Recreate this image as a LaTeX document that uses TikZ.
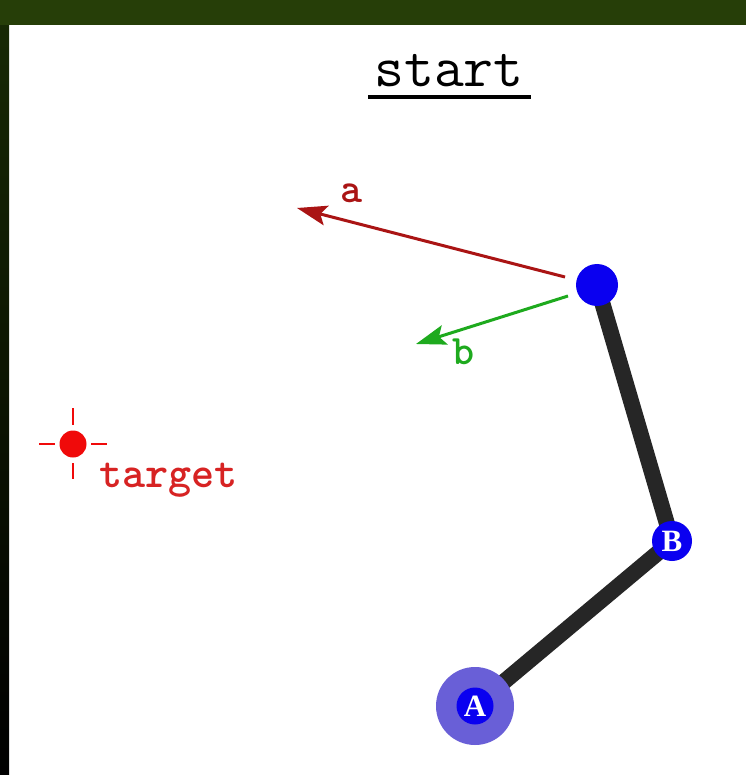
\documentclass[tikz,border=0pt]{standalone}
\usepackage{fontspec}
\newfontfamily\jointfont{Liberation Serif}
\usetikzlibrary{arrows.meta}
\definecolor{topgreen}{RGB}{38,62,8}
\definecolor{leftgreen}{RGB}{24,42,4}
\definecolor{jointblue}{RGB}{10,0,240}
\definecolor{halo}{RGB}{105,95,215}
\definecolor{linkgray}{RGB}{38,38,38}
\definecolor{avec}{RGB}{170,20,20}
\definecolor{bvec}{RGB}{30,170,30}
\definecolor{tgtred}{RGB}{240,10,10}
\definecolor{tgttext}{RGB}{215,35,35}
\tikzset{
  joint/.style={circle, fill=jointblue, inner sep=0pt, minimum size=40pt, text=white, font=\jointfont\bfseries\fontsize{31}{31}\selectfont},
  link/.style={line width=16pt, draw=linkgray},
  vec/.style={line width=3pt, -{Stealth[length=30pt,width=20pt,inset=6pt]}},
  lbl/.style={font=\ttfamily\bfseries\fontsize{42}{42}\selectfont},
  tick/.style={draw=tgtred, line width=2pt}
}
\begin{document}
\begin{tikzpicture}[x=1pt,y=-1pt]
\useasboundingbox (0,0) rectangle (746,775);
\fill[white] (0,0) rectangle (746,775);
% frame
\shade[top color=leftgreen, bottom color=black] (0,0) rectangle (9,775);
\fill[topgreen] (0,0) rectangle (746,25);
% title
\node[font=\ttfamily\fontsize{58}{58}\selectfont, anchor=base, inner sep=0pt] (title) at (449,87) {start};
\draw[line width=4pt] (368,97) -- (531,97);
% coordinates
\coordinate (E) at (597,285);
\coordinate (Bc) at (672,541);
\coordinate (Ac) at (475,706);
% links
\draw[link] (Ac) -- (Bc) -- (E);
% joints
\fill[halo] (Ac) circle (39pt);
\node[joint, minimum size=37pt] (A) at (Ac) {A};
\node[joint] (B) at (Bc) {B};
\node[circle, fill=jointblue, inner sep=0pt, minimum size=42pt] (eff) at (E) {};
% vectors
\coordinate (atip) at (297,208);
\coordinate (btip) at (416,344);
\draw[vec, draw=avec, fill=avec] (565,277) -- (atip);
\draw[vec, draw=bvec, fill=bvec] (568,296) -- (btip);
\node[lbl, text=avec] (la) at (352,193) {a};
\node[lbl, text=bvec] (lb) at (464,352) {b};
% target
\node[circle, fill=tgtred, inner sep=0pt, minimum size=27pt] (tgt) at (73,444) {};
\draw[tick] (73,408) -- (73,425);
\draw[tick] (73,463) -- (73,479);
\draw[tick] (39,444) -- (55,444);
\draw[tick] (91,444) -- (107,444);
\node[font=\ttfamily\bfseries\fontsize{44}{44}\selectfont, text=tgttext, anchor=base west, inner sep=0pt] (tl) at (99,487) {target};
\end{tikzpicture}
\end{document}
